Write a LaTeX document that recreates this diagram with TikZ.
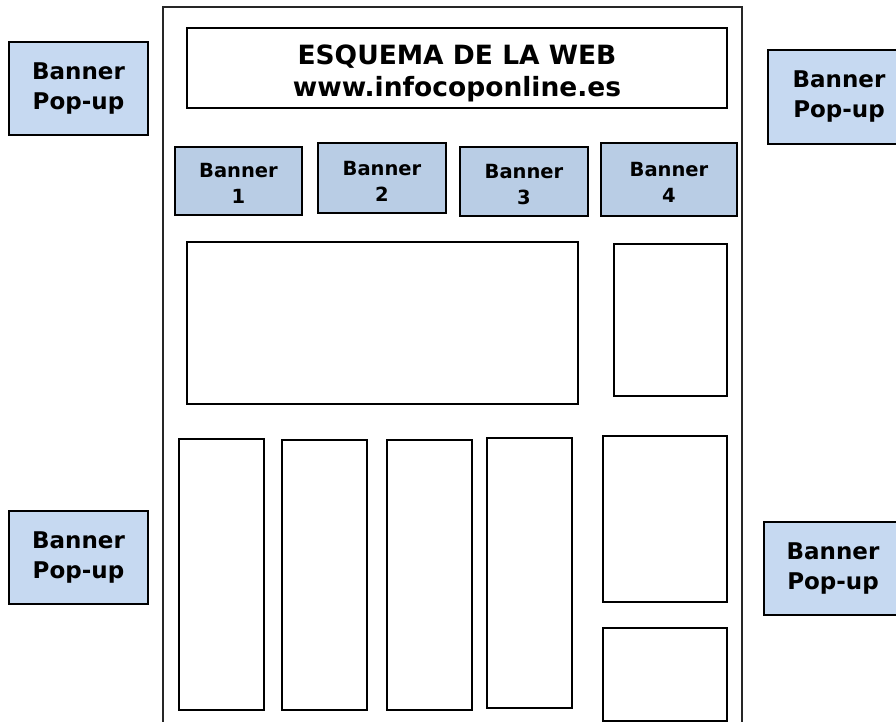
\documentclass[tikz,border=0pt]{standalone}
\usepackage{fontspec}
\setmainfont{DejaVu Sans}
\usepackage{tikz}
\definecolor{popblue}{HTML}{C6D9F1}
\definecolor{banblue}{HTML}{B9CDE5}
\tikzstyle{box} = [draw, line width=1.3pt, inner sep=0pt, align=center]
\tikzstyle{popup} = [box, fill=popblue, font=\fontsize{23}{30}\selectfont\bfseries]
\tikzstyle{banner} = [box, fill=banblue, font=\fontsize{19.5}{26}\selectfont\bfseries, text height=46pt]
\tikzstyle{head} = [box, font=\fontsize{26.5}{32}\selectfont\bfseries, text height=62pt]
\tikzstyle{frame} = [draw, line width=1.2pt, black!85]

\begin{document}
\begin{tikzpicture}[x=1pt,y=-1pt]
  \useasboundingbox (0,0) rectangle (896,722);
  \clip (0,0) rectangle (896,722);
  % page outline
  \draw [frame] (163,730) -- (163,7) -- (742,7) -- (742,730);
  % header
  \node (title) at (457,68) [head, minimum width=540, minimum height=80] {ESQUEMA DE LA WEB\\www.infocoponline.es};
  % top banners
  \node (b1) at (238.5,181) [banner, minimum width=127, minimum height=68] {Banner\\1};
  \node (b2) at (382,178) [banner, minimum width=128, minimum height=70] {Banner\\2};
  \node (b3) at (524,181.5) [banner, minimum width=128, minimum height=69] {Banner\\3};
  \node (b4) at (669,179.5) [banner, minimum width=136, minimum height=73] {Banner\\4};
  % content blocks
  \node (main) at (382.5,323) [box, minimum width=391, minimum height=162] {};
  \node (side) at (670.5,320) [box, minimum width=113, minimum height=152] {};
  \node (c1) at (221.5,574.5) [box, minimum width=85, minimum height=271] {};
  \node (c2) at (324.5,575) [box, minimum width=85, minimum height=270] {};
  \node (c3) at (429.5,575) [box, minimum width=85, minimum height=270] {};
  \node (c4) at (529.5,573) [box, minimum width=85, minimum height=270] {};
  \node (s1) at (665,519) [box, minimum width=124, minimum height=166] {};
  \node (s2) at (665,674.5) [box, minimum width=124, minimum height=93] {};
  % pop-ups
  \node (p1) at (78.5,88.5) [popup, minimum width=139, minimum height=93] {Banner\\Pop-up};
  \node (p2) at (839,97) [popup, minimum width=142, minimum height=94] {Banner\\Pop-up};
  \node (p3) at (78.5,557.5) [popup, minimum width=139, minimum height=93] {Banner\\Pop-up};
  \node (p4) at (833,568.5) [popup, minimum width=138, minimum height=93] {Banner\\Pop-up};
\end{tikzpicture}
\end{document}
